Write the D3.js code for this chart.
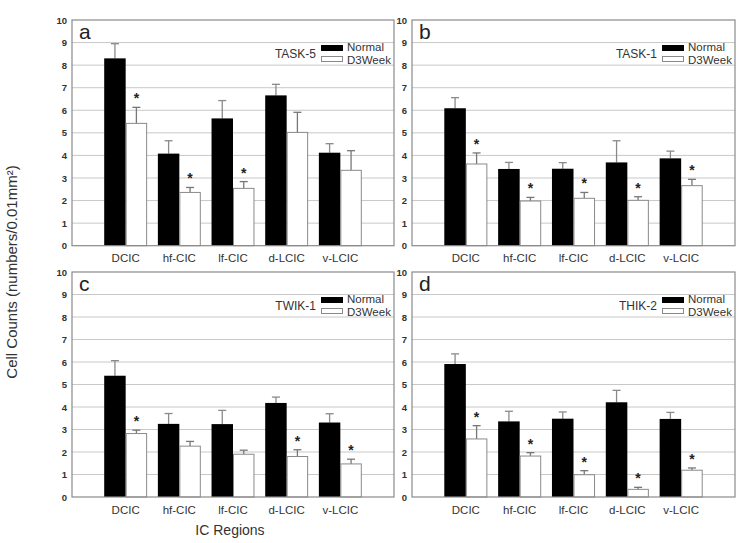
<!DOCTYPE html>
<html>
<head>
<meta charset="utf-8">
<script src="https://cdn.jsdelivr.net/npm/d3@7"></script>
<style>
  body { margin: 0; background: #fff; }
  svg { display: block; font-family: "Liberation Sans", Arial, sans-serif; }
</style>
</head>
<body>
<svg id="chart" width="744" height="543"></svg>
<script>
// ---------------- DATA ----------------
const categories = ["DCIC", "hf-CIC", "lf-CIC", "d-LCIC", "v-LCIC"];
const seriesNames = ["Normal", "D3Week"];
const panelLetters = ["a", "b", "c", "d"];
const geneNames = ["TASK-5", "TASK-1", "TWIK-1", "THIK-2"];
const yTicks = [0, 1, 2, 3, 4, 5, 6, 7, 8, 9, 10];

// TASK-5
const task5Normal = [8.30, 4.08, 5.64, 6.66, 4.12];
const task5NormalErr = [0.65, 0.57, 0.79, 0.49, 0.40];
const task5D3 = [5.42, 2.36, 2.54, 5.02, 3.34];
const task5D3Err = [0.71, 0.22, 0.30, 0.89, 0.87];
const task5Sig = [1, 1, 1, 0, 0];

// TASK-1
const task1Normal = [6.09, 3.40, 3.41, 3.69, 3.87];
const task1NormalErr = [0.47, 0.29, 0.27, 0.96, 0.32];
const task1D3 = [3.62, 1.98, 2.10, 2.01, 2.66];
const task1D3Err = [0.49, 0.16, 0.26, 0.16, 0.28];
const task1Sig = [1, 1, 1, 1, 1];

// TWIK-1
const twik1Normal = [5.39, 3.25, 3.24, 4.18, 3.31];
const twik1NormalErr = [0.67, 0.46, 0.61, 0.26, 0.39];
const twik1D3 = [2.82, 2.26, 1.90, 1.80, 1.47];
const twik1D3Err = [0.15, 0.21, 0.18, 0.30, 0.21];
const twik1Sig = [1, 0, 0, 1, 1];

// THIK-2
const thik2Normal = [5.91, 3.36, 3.48, 4.21, 3.47];
const thik2NormalErr = [0.45, 0.45, 0.30, 0.53, 0.29];
const thik2D3 = [2.58, 1.82, 0.99, 0.34, 1.19];
const thik2D3Err = [0.59, 0.15, 0.18, 0.09, 0.10];
const thik2Sig = [1, 1, 1, 1, 1];

const normalSeries = [task5Normal, task1Normal, twik1Normal, thik2Normal];
const normalErrSeries = [task5NormalErr, task1NormalErr, twik1NormalErr, thik2NormalErr];
const d3Series = [task5D3, task1D3, twik1D3, thik2D3];
const d3ErrSeries = [task5D3Err, task1D3Err, twik1D3Err, thik2D3Err];
const sigSeries = [task5Sig, task1Sig, twik1Sig, thik2Sig];

// ---------------- LAYOUT ----------------
const panelBoxes = [
  { x0: 72, x1: 394, y0: 20, y1: 245.7 },
  { x0: 412, x1: 735, y0: 20, y1: 245.7 },
  { x0: 72, x1: 394, y0: 272, y1: 497 },
  { x0: 412, x1: 735, y0: 272, y1: 497 }
];

const svg = d3.select("#chart");

panelBoxes.forEach((b, p) => {
  const g = svg.append("g");
  const x = d3.scaleBand().domain(categories).range([b.x0, b.x1])
    .paddingInner(0.2).paddingOuter(0.6);
  const xs = d3.scaleBand().domain(seriesNames).range([0, x.bandwidth()]);
  const y = d3.scaleLinear().domain([0, 10]).range([b.y1, b.y0]);

  // gridlines
  g.append("g").selectAll("line").data(yTicks.filter(t => t > 0 && t < 10)).join("line")
    .attr("x1", b.x0).attr("x2", b.x1)
    .attr("y1", d => y(d)).attr("y2", d => y(d))
    .attr("stroke", "#c8c8c8").attr("stroke-width", 1);

  // y axis labels
  const ax = g.append("g").attr("transform", `translate(${b.x0},0)`)
    .call(d3.axisLeft(y).tickValues(yTicks).tickSize(0).tickPadding(5).tickFormat(d3.format("d")));
  ax.select(".domain").remove();
  ax.selectAll("text").attr("font-size", 9.5).attr("font-weight", "bold")
    .attr("fill", "#333").attr("font-family", "Liberation Sans, Arial, sans-serif");

  const rows = categories.map((c, i) => ({
    cat: c,
    n: normalSeries[p][i], ne: normalErrSeries[p][i],
    w: d3Series[p][i], we: d3ErrSeries[p][i],
    sig: sigSeries[p][i]
  }));

  // error bars (drawn behind bars)
  const errG = g.append("g");
  rows.forEach(r => {
    [["Normal", r.n, r.ne, "#8a8a8a"], ["D3Week", r.w, r.we, "#777"]].forEach(([s, v, e, col]) => {
      const cx = x(r.cat) + xs(s) + xs.bandwidth() / 2;
      errG.append("line").attr("x1", cx).attr("x2", cx)
        .attr("y1", y(v)).attr("y2", y(v + e)).attr("stroke", col).attr("stroke-width", 1.3);
      errG.append("line").attr("x1", cx - 4).attr("x2", cx + 4)
        .attr("y1", y(v + e)).attr("y2", y(v + e)).attr("stroke", col).attr("stroke-width", 1.3);
    });
  });

  // bars
  g.append("g").selectAll("rect.n").data(rows).join("rect")
    .attr("x", d => x(d.cat) + xs("Normal"))
    .attr("y", d => y(d.n)).attr("width", xs.bandwidth())
    .attr("height", d => y(0) - y(d.n)).attr("fill", "#000");
  g.append("g").selectAll("rect.w").data(rows).join("rect")
    .attr("x", d => x(d.cat) + xs("D3Week") + 0.5)
    .attr("y", d => y(d.w)).attr("width", xs.bandwidth() - 1)
    .attr("height", d => y(0) - y(d.w)).attr("fill", "#fff")
    .attr("stroke", "#8a8a8a").attr("stroke-width", 1);

  // significance stars
  g.append("g").selectAll("text").data(rows.filter(r => r.sig)).join("text")
    .attr("x", d => x(d.cat) + xs("D3Week") + xs.bandwidth() / 2)
    .attr("y", d => y(d.w + d.we) - 4)
    .attr("text-anchor", "middle").attr("font-size", 14).attr("font-weight", "bold")
    .attr("fill", "#222").text("*");

  // plot border
  g.append("rect").attr("x", b.x0).attr("y", b.y0)
    .attr("width", b.x1 - b.x0).attr("height", b.y1 - b.y0)
    .attr("fill", "none").attr("stroke", "#8a8a8a").attr("stroke-width", 1.2);

  // category labels
  g.append("g").selectAll("text").data(categories).join("text")
    .attr("x", d => x(d) + x.bandwidth() / 2).attr("y", b.y1 + 16.5)
    .attr("text-anchor", "middle").attr("font-size", 11.5).attr("fill", "#333").text(d => d);

  // panel letter
  g.append("text").attr("x", b.x0 + 7).attr("y", b.y0 + 19)
    .attr("font-size", 21).attr("fill", "#222").text(panelLetters[p]);

  // legend
  const lx = b.x1 - 73, ly = b.y0 + 25;
  g.append("rect").attr("x", lx).attr("y", ly).attr("width", 22).attr("height", 6).attr("fill", "#000");
  g.append("rect").attr("x", lx + 0.5).attr("y", ly + 11.5).attr("width", 21).attr("height", 5)
    .attr("fill", "#fff").attr("stroke", "#8a8a8a").attr("stroke-width", 1);
  g.append("text").attr("x", lx + 26).attr("y", ly + 6).attr("font-size", 11.5).attr("fill", "#333").text(seriesNames[0]);
  g.append("text").attr("x", lx + 26).attr("y", ly + 18.5).attr("font-size", 11.5).attr("fill", "#333").text(seriesNames[1]);
  g.append("text").attr("x", lx - 5).attr("y", ly + 13).attr("text-anchor", "end")
    .attr("font-size", 12).attr("fill", "#333").text(geneNames[p]);
});

// axis titles
svg.append("text").attr("transform", "translate(17,272) rotate(-90)")
  .attr("text-anchor", "middle").attr("font-size", 15).attr("fill", "#333")
  .text("Cell Counts (numbers/0.01mm²)");
svg.append("text").attr("x", 230).attr("y", 535).attr("text-anchor", "middle")
  .attr("font-size", 14).attr("fill", "#333").text("IC Regions");
</script>
</body>
</html>
